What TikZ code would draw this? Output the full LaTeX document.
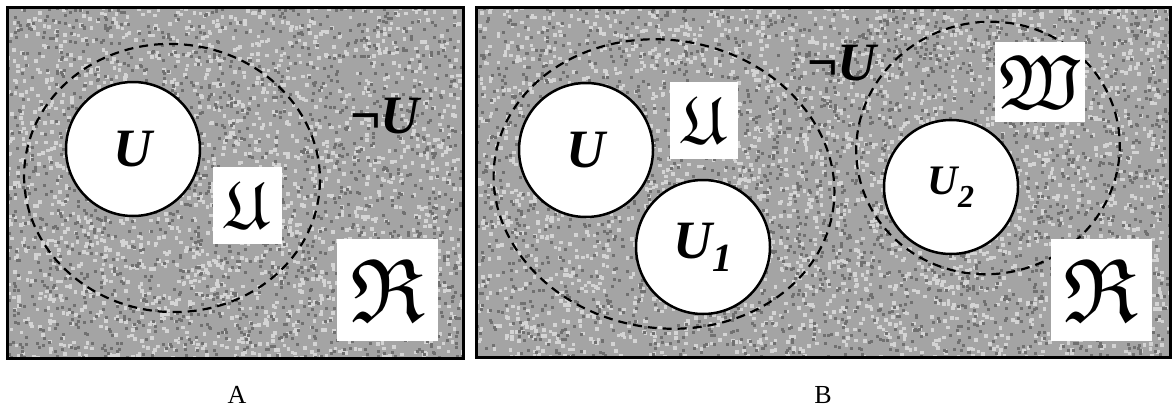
\documentclass[tikz,border=0pt]{standalone}
\usepackage{fontspec}
\setmainfont{Liberation Serif}
\usepackage{amssymb}
\usetikzlibrary{positioning}
\definecolor{NoiseBase}{HTML}{A4A4A4}
\definecolor{NoiseDark}{HTML}{707070}
\definecolor{NoiseLight}{HTML}{D4D4D4}

\begin{document}
\begin{tikzpicture}[x=1pt,y=-1pt,
    panel/.style={line width=3pt},
    disc/.style={circle,draw,line width=2.5pt,fill=white,minimum size=134pt,inner sep=0pt,
                 font=\bfseries\itshape\fontsize{54}{54}\selectfont},
    region/.style={line width=2.2pt,dash pattern=on 9pt off 6pt},
    tag/.style={fill=white,inner sep=0pt},
    neg/.style={inner sep=0pt,anchor=base west,font=\bfseries\fontsize{54}{54}\selectfont},
    caption/.style={font=\fontsize{26}{26}\selectfont}
  ]
    \useasboundingbox (0,0) rectangle (1174,407);
    % noisy ground of both panels
    \fill[NoiseBase] (7,7) rectangle (463,358) (476,7) rectangle (1170,357);
    \pgfmathsetseed{42}
    \begin{scope}
      \clip (7,7) rectangle (463,358) (476,7) rectangle (1170,357);
      \foreach \k in {1,...,5000}{
        \pgfmathsetmacro\px{5+1165*rnd}\pgfmathsetmacro\py{5+353*rnd}
        \fill[NoiseLight] (\px,\py) rectangle ++(3.6,3.6);
      }
      \foreach \k in {1,...,4200}{
        \pgfmathsetmacro\px{5+1165*rnd}\pgfmathsetmacro\py{5+353*rnd}
        \fill[NoiseDark] (\px,\py) rectangle ++(3,3);
      }
    \end{scope}
    \draw[panel] (7,7) rectangle (463,358);
    \draw[panel] (476,7) rectangle (1170,357);

    % panel A
    \draw[region] (172,178) ellipse [x radius=148pt,y radius=134pt,rotate=-4];
    \node[disc] (uA) at (133,149) {U};
    \node[tag,minimum width=69pt,minimum height=77pt] (frakUA) at (247.5,205.5) {\scalebox{6.7}{$\mathfrak{U}$}};
    \node[tag,minimum width=101pt,minimum height=102pt] (frakRA) at (387.5,290) {\scalebox{9}{$\mathfrak{R}$}};
    \node[neg] (notUA) at (350,133) {¬\itshape U};
    \node[caption] (capA) at (237,395) {A};

    % panel B
    \draw[region] (664,184) ellipse [x radius=171pt,y radius=144pt,rotate=-9];
    \draw[region] (988,148) ellipse [x radius=132pt,y radius=126pt,rotate=12];
    \node[disc] (uB) at (586,150) {U};
    \node[disc] (uOne) at (703,247) {U\raisebox{-13pt}{\fontsize{40}{40}\selectfont 1}};
    \node[disc,font=\bfseries\itshape\fontsize{42}{42}\selectfont] (uTwo) at (951,187) {U\raisebox{-13pt}{\fontsize{32}{32}\selectfont 2}};
    \node[tag,minimum width=68pt,minimum height=77pt] (frakUB) at (704,120.5) {\scalebox{6.7}{$\mathfrak{U}$}};
    \node[tag,minimum width=90pt,minimum height=80pt] (frakW) at (1040,82) {\scalebox{7.7}{$\mathfrak{W}$}};
    \node[tag,minimum width=101pt,minimum height=102pt] (frakRB) at (1101,290) {\scalebox{9}{$\mathfrak{R}$}};
    \node[neg] (notUB) at (807,80) {¬\itshape U};
    \node[caption] (capB) at (823,395) {B};
  \end{tikzpicture}
\end{document}
